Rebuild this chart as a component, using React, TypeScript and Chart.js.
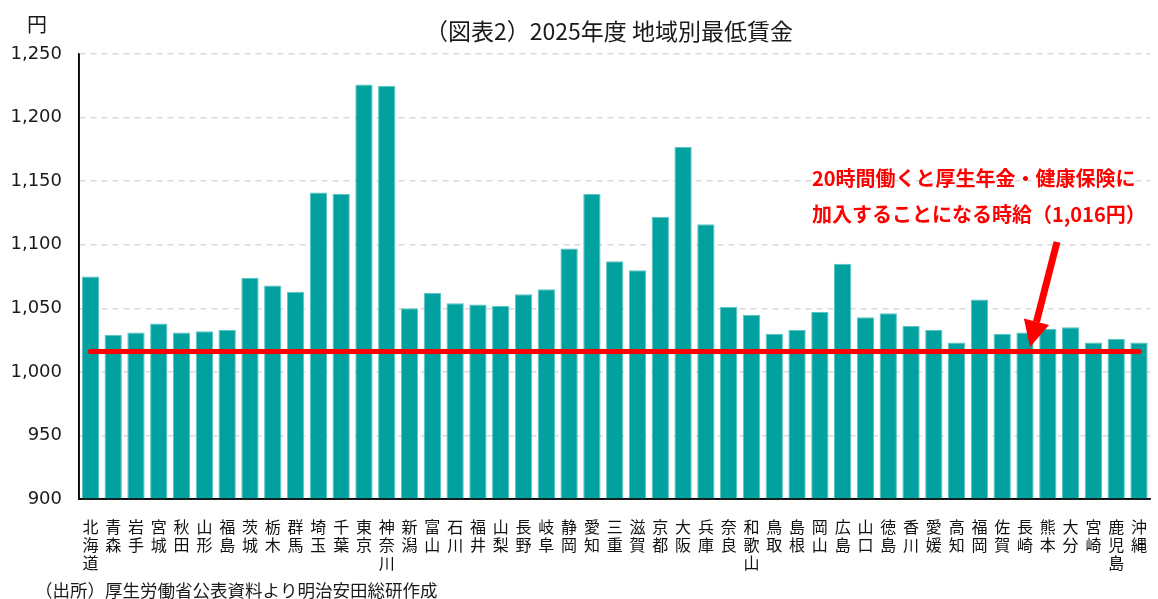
import React, { useEffect, useRef } from "react";
import { Chart, registerables } from "chart.js";

Chart.register(...registerables);

const prefectures = [
  "北海道", "青森", "岩手", "宮城", "秋田", "山形", "福島", "茨城", "栃木", "群馬",
  "埼玉", "千葉", "東京", "神奈川", "新潟", "富山", "石川", "福井", "山梨", "長野",
  "岐阜", "静岡", "愛知", "三重", "滋賀", "京都", "大阪", "兵庫", "奈良", "和歌山",
  "鳥取", "島根", "岡山", "広島", "山口", "徳島", "香川", "愛媛", "高知", "福岡",
  "佐賀", "長崎", "熊本", "大分", "宮崎", "鹿児島", "沖縄",
];

const minimumWage = [
  1075, 1029, 1031, 1038, 1031, 1032, 1033, 1074, 1068, 1063,
  1141, 1140, 1226, 1225, 1050, 1062, 1054, 1053, 1052, 1061,
  1065, 1097, 1140, 1087, 1080, 1122, 1177, 1116, 1051, 1045,
  1030, 1033, 1047, 1085, 1043, 1046, 1036, 1033, 1023, 1057,
  1030, 1031, 1034, 1035, 1023, 1026, 1023,
];

const thresholdWage = 1016;

const titleText = "（図表2）2025年度 地域別最低賃金";
const unitText = "円";
const sourceText = "（出所）厚生労働省公表資料より明治安田総研作成";
const noteLines = [
  "20時間働くと厚生年金・健康保険に",
  "加入することになる時給（1,016円）",
];

const FONT = "'DejaVu Sans', 'Noto Sans CJK JP', sans-serif";
const JP = "'Noto Sans CJK JP', sans-serif";

const overlayPlugin = {
  id: "overlay",
  afterDraw(chart: any) {
    const ctx = chart.ctx;
    ctx.save();
    ctx.fillStyle = "#1a1a1a";
    ctx.textBaseline = "middle";
    ctx.textAlign = "center";
    ctx.font = `23px ${JP}`;
    ctx.fillText(titleText, 609, 31);
    ctx.textAlign = "left";
    ctx.font = `20px ${JP}`;
    ctx.fillText(unitText, 27, 24);
    ctx.font = `17.5px ${JP}`;
    ctx.fillText(sourceText, 35, 590);

    ctx.fillStyle = "#ff0000";
    ctx.font = `bold 20px ${JP}`;
    ctx.fillText(noteLines[0], 812, 178);
    ctx.fillText(noteLines[1], 812, 214);

    // arrow
    const x0 = 1057, y0 = 242, x1 = 1030, y1 = 347;
    const ang = Math.atan2(y1 - y0, x1 - x0);
    const headLen = 26, headW = 13;
    const bx = x1 - headLen * Math.cos(ang);
    const by = y1 - headLen * Math.sin(ang);
    ctx.strokeStyle = "#ff0000";
    ctx.lineWidth = 7;
    ctx.lineCap = "butt";
    ctx.beginPath();
    ctx.moveTo(x0, y0);
    ctx.lineTo(bx, by);
    ctx.stroke();
    ctx.beginPath();
    ctx.moveTo(x1, y1);
    ctx.lineTo(bx + headW * Math.sin(ang), by - headW * Math.cos(ang));
    ctx.lineTo(bx - headW * Math.sin(ang), by + headW * Math.cos(ang));
    ctx.closePath();
    ctx.fill();
    ctx.restore();
  },
};

export default function App() {
  const ref = useRef<HTMLCanvasElement>(null);

  useEffect(() => {
    if (!ref.current) return;
    const labels = prefectures.map((p) => p.split(""));
    const chart = new Chart(ref.current, {
      type: "bar",
      data: {
        labels,
        datasets: [
          {
            type: "line",
            data: prefectures.map(() => thresholdWage),
            borderColor: "#ff0000",
            borderWidth: 5,
            borderCapStyle: "round",
            pointRadius: 0,
            order: 0,
          } as any,
          {
            type: "bar",
            data: minimumWage,
            backgroundColor: "#00a19f",
            borderColor: "#5cc4c2",
            borderWidth: 1,
            barPercentage: 0.76,
            categoryPercentage: 1,
            order: 1,
          },
        ],
      },
      options: {
        responsive: false,
        animation: false,
        layout: { padding: { top: 54, right: -8, left: 0, bottom: 0 } },
        plugins: {
          legend: { display: false },
          tooltip: { enabled: false },
          title: { display: false },
        },
        scales: {
          x: {
            grid: { display: false },
            border: { display: true, color: "#000", width: 1.5 },
            ticks: {
              autoSkip: false,
              maxRotation: 0,
              minRotation: 0,
              color: "#111",
              padding: 11,
              font: { family: JP, size: 16, lineHeight: 1.12 },
            },
            afterFit(scale: any) {
              scale.height = 100;
            },
          },
          y: {
            min: 900,
            max: 1250,
            grid: {
              color: "#d9d9d9",
              lineWidth: 1.5,
              drawTicks: false,
            },
            border: { display: true, color: "#000", width: 1.5, dash: [6, 5] },
            ticks: {
              stepSize: 50,
              color: "#1a1a1a",
              padding: 17,
              font: { family: FONT, size: 18 },
              callback: (v: any) => Number(v).toLocaleString("en-US"),
            },
            afterFit(scale: any) {
              scale.width = 79;
            },
          },
        },
      },
      plugins: [
        overlayPlugin,
        {
          id: "solidAxis",
          afterDatasetsDraw(c: any) {
            const a = c.chartArea;
            const ctx = c.ctx;
            ctx.save();
            ctx.strokeStyle = "#000";
            ctx.lineWidth = 1.5;
            ctx.beginPath();
            ctx.moveTo(a.left, a.top);
            ctx.lineTo(a.left, a.bottom);
            ctx.lineTo(a.right, a.bottom);
            ctx.stroke();
            ctx.restore();
          },
        },
      ],
    } as any);
    return () => chart.destroy();
  }, []);

  return (
    <div style={{ position: "fixed", left: 0, top: 0, width: 1158, height: 599, background: "#fff" }}>
      <canvas ref={ref} width={1158} height={599} />
    </div>
  );
}
